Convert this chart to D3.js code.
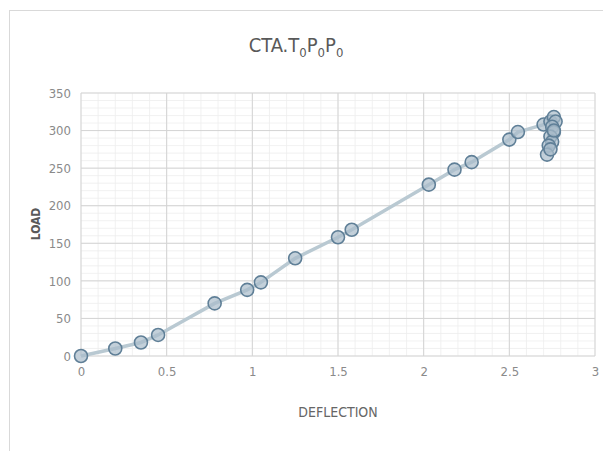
<!DOCTYPE html>
<html lang="en">
<head>
<meta charset="UTF-8">
<script src="https://d3js.org/d3.v7.min.js"></script>
<title>CTA.T0P0P0</title>
<style>
  body { margin: 0; background: #fff; }
  text { font-family: "DejaVu Sans", sans-serif; font-stretch: condensed; }
</style>
</head>
<body>
<script>
  // data
  const deflection = [0, 0.2, 0.35, 0.45, 0.78, 0.97, 1.05, 1.25, 1.5, 1.58, 2.03, 2.18, 2.28, 2.5, 2.55,
                      2.7, 2.74, 2.76, 2.77, 2.75, 2.76, 2.74, 2.75, 2.73, 2.72, 2.74, 2.76]
  const load = [0, 10, 18, 28, 70, 88, 98, 130, 158, 168, 228, 248, 258, 288, 298,
                308, 312, 318, 312, 305, 298, 292, 285, 280, 268, 275, 300]
  const xTicks = [0, 0.5, 1, 1.5, 2, 2.5, 3]
  const yTicks = [0, 50, 100, 150, 200, 250, 300, 350]

  const W = 603, H = 451
  const m = { left: 81, right: 8, top: 93, bottom: 95 }

  const svg = d3.select("body").append("svg").attr("width", W).attr("height", H)

  // chart area border
  svg.append("rect").attr("x", 9.5).attr("y", 10.5).attr("width", 620).attr("height", 500)
     .attr("fill", "#fff").attr("stroke", "#d9d9d9")

  const x = d3.scaleLinear().domain([0, 3]).range([m.left, W - m.right])
  const y = d3.scaleLinear().domain([0, 350]).range([H - m.bottom, m.top])

  // minor grid
  const g = svg.append("g")
  g.selectAll(".mx").data(d3.range(0, 3.001, 0.1)).join("line")
    .attr("x1", d => x(d)).attr("x2", d => x(d)).attr("y1", y(0)).attr("y2", y(350))
    .attr("stroke", "#eeeeee").attr("stroke-width", 0.8)
  g.selectAll(".my").data(d3.range(0, 351, 10)).join("line")
    .attr("y1", d => y(d)).attr("y2", d => y(d)).attr("x1", x(0)).attr("x2", x(3))
    .attr("stroke", "#eeeeee").attr("stroke-width", 0.8)
  // major grid
  g.selectAll(".Mx").data(xTicks).join("line")
    .attr("x1", d => x(d)).attr("x2", d => x(d)).attr("y1", y(0)).attr("y2", y(350))
    .attr("stroke", "#d4d4d4")
  g.selectAll(".My").data(yTicks).join("line")
    .attr("y1", d => y(d)).attr("y2", d => y(d)).attr("x1", x(0)).attr("x2", x(3))
    .attr("stroke", "#d4d4d4")

  // axes labels
  const xAxis = svg.append("g").attr("transform", `translate(0,${y(0) + 8})`)
    .call(d3.axisBottom(x).tickValues(xTicks).tickSize(0).tickFormat(d3.format("")))
  const yAxis = svg.append("g").attr("transform", `translate(${x(0) - 7},0)`)
    .call(d3.axisLeft(y).tickValues(yTicks).tickSize(0))
  for (const a of [xAxis, yAxis]) {
    a.select(".domain").remove()
    a.selectAll("text").attr("fill", "#8a8a8a").attr("font-size", 13)
      .attr("font-family", null)
  }

  // line
  const pts = deflection.map((d, i) => [d, load[i]])
  svg.append("path").datum(pts.slice(0, 16))
    .attr("d", d3.line().x(d => x(d[0])).y(d => y(d[1])))
    .attr("fill", "none").attr("stroke", "#b9c9d2").attr("stroke-width", 3.5)
  svg.append("path").datum(pts.slice(15))
    .attr("d", d3.line().x(d => x(d[0])).y(d => y(d[1])))
    .attr("fill", "none").attr("stroke", "#8ea6b6").attr("stroke-width", 2.5)

  // markers
  svg.selectAll(".pt").data(pts).join("circle")
    .attr("cx", d => x(d[0])).attr("cy", d => y(d[1])).attr("r", 6.5)
    .attr("fill", "#a9bccb").attr("fill-opacity", 0.7)
    .attr("stroke", "#5f7f97").attr("stroke-width", 1.6)

  // title with subscripts
  const t = svg.append("text").attr("x", 296).attr("y", 52).attr("text-anchor", "middle")
    .attr("font-size", 20).attr("fill", "#595959")
  t.append("tspan").text("CTA.T")
  t.append("tspan").text("0").attr("font-size", 13).attr("dy", 5)
  t.append("tspan").text("P").attr("dy", -5)
  t.append("tspan").text("0").attr("font-size", 13).attr("dy", 5)
  t.append("tspan").text("P").attr("dy", -5)
  t.append("tspan").text("0").attr("font-size", 13).attr("dy", 5)

  svg.append("text").attr("x", 338).attr("y", 417).attr("text-anchor", "middle")
    .attr("font-size", 14).attr("fill", "#666").text("DEFLECTION")
  svg.append("text").attr("transform", "translate(40,224) rotate(-90)").attr("text-anchor", "middle")
    .attr("font-size", 12).attr("font-weight", "bold").attr("fill", "#595959").text("LOAD")
</script>
</body>
</html>
